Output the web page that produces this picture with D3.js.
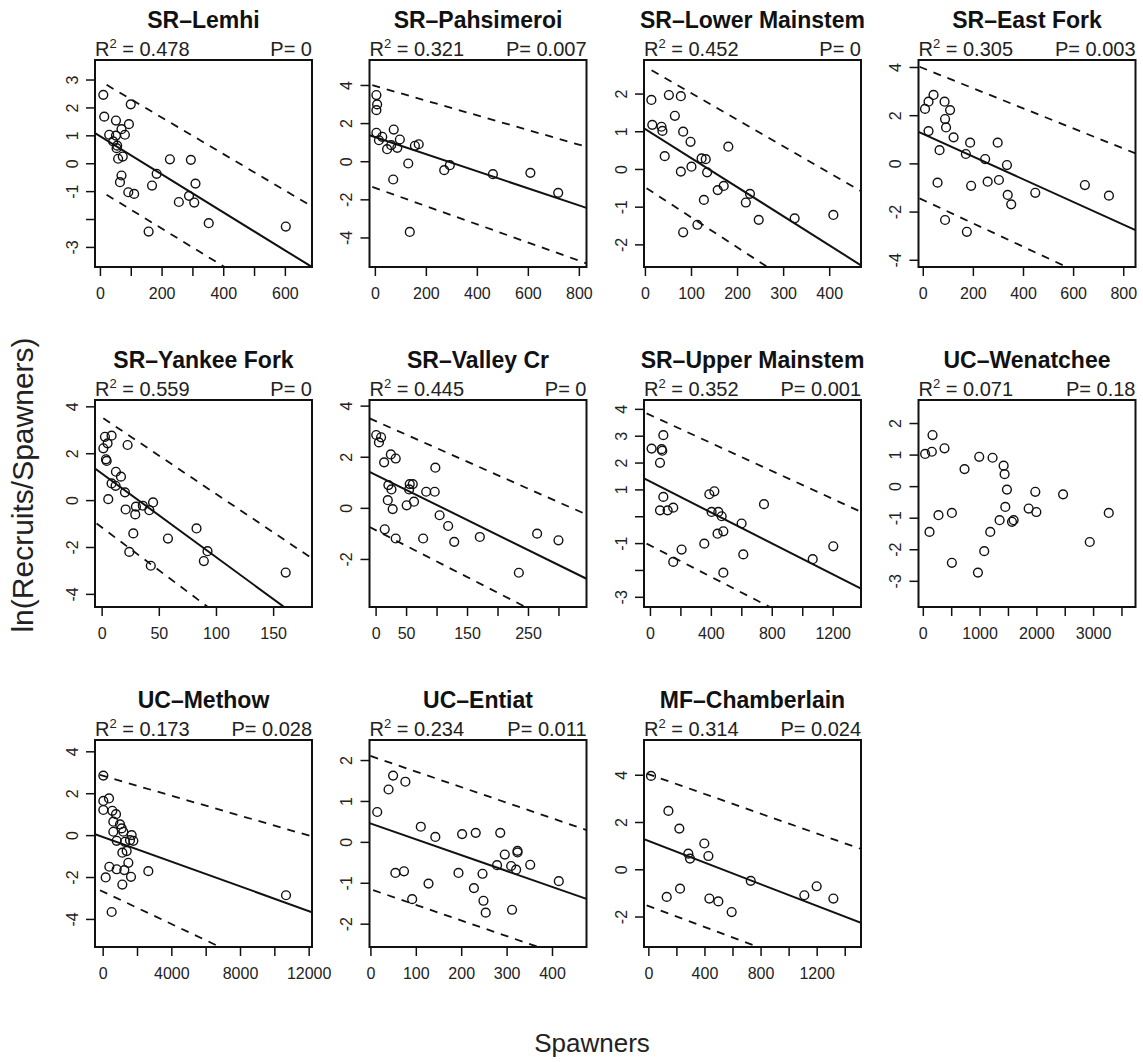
<!DOCTYPE html>
<html>
<head>
<meta charset="utf-8">
<script src="https://cdn.jsdelivr.net/npm/d3@7/dist/d3.min.js"></script>
<style>
  body { margin: 0; background: #fff; }
  svg { display: block; font-family: "Liberation Sans", Arial, Helvetica, sans-serif; }
</style>
</head>
<body>
<svg width="1143" height="1062"></svg>
<script>
// one entry per panel, in reading order
const panelNames = ['SR–Lemhi', 'SR–Pahsimeroi', 'SR–Lower Mainstem', 'SR–East Fork',
  'SR–Yankee Fork', 'SR–Valley Cr', 'SR–Upper Mainstem', 'UC–Wenatchee',
  'UC–Methow', 'UC–Entiat', 'MF–Chamberlain'];
const r2Values = ['0.478', '0.321', '0.452', '0.305', '0.559', '0.445', '0.352', '0.071', '0.173', '0.234', '0.314'];
const pValues = ['0', '0.007', '0', '0.003', '0', '0', '0.001', '0.18', '0.028', '0.011', '0.024'];

// spawners (x) and ln(recruits/spawners) (y)
const spawners = [
  [11, 100, 14, 52, 94, 70, 30, 52, 81, 43, 56, 54, 74, 59, 227, 295, 184, 70, 65, 169, 310, 92, 111, 289, 256, 306, 353, 158, 603],
  [6, 9, 6, 6, 16, 29, 74, 98, 64, 48, 88, 157, 172, 131, 294, 272, 463, 610, 719, 72, 137],
  [14, 52, 78, 65, 16, 36, 38, 83, 99, 181, 43, 123, 132, 135, 101, 78, 171, 158, 128, 228, 219, 247, 325, 409, 114, 83],
  [43, 23, 9, 87, 109, 89, 93, 23, 123, 189, 299, 67, 172, 249, 336, 59, 193, 259, 304, 339, 353, 449, 647, 743, 89, 176],
  [2.9, 8.7, 5.2, 1.5, 22.7, 3.8, 4.4, 12.5, 16.9, 8.7, 12.2, 20.4, 5.8, 45, 36, 30, 41.7, 21, 29.4, 83, 27.7, 58, 92.6, 24.2, 89.4, 43, 161],
  [1, 9, 5.5, 25, 33, 14, 98, 21, 26, 56, 61, 55, 83, 97, 20, 28, 51, 63, 105, 119, 15, 33, 78, 129, 171, 265, 300, 235],
  [88, 11, 77, 81, 66, 88, 66, 116, 153, 390, 423, 405, 449, 471, 749, 602, 482, 444, 357, 208, 153, 613, 482, 1069, 1204],
  [41, 159, 171, 382, 735, 994, 1229, 1424, 1441, 1482, 1982, 2471, 1453, 1865, 2000, 1353, 1571, 1600, 276, 512, 3276, 118, 1188, 1082, 512, 971, 2941],
  [39, 39, 369, 39, 563, 777, 621, 1010, 1107, 621, 1204, 816, 1301, 1689, 1592, 1786, 1398, 1146, 1495, 388, 816, 1262, 2660, 175, 1650, 1146, 524, 10680],
  [15, 40, 50, 77, 111, 143, 202, 232, 286, 296, 324, 324, 279, 310, 321, 352, 415, 55, 74, 194, 247, 128, 228, 92, 249, 254, 312],
  [19, 143, 221, 399, 428, 285, 297, 730, 1112, 1200, 1319, 226, 131, 435, 499, 594]
];
const lnRS = [
  [2.45, 2.11, 1.67, 1.53, 1.40, 1.22, 1.02, 0.99, 1.02, 0.78, 0.63, 0.54, 0.24, 0.16, 0.14, 0.12, -0.38, -0.44, -0.68, -0.80, -0.73, -1.04, -1.10, -1.17, -1.39, -1.41, -2.15, -2.45, -2.27],
  [3.47, 2.98, 2.68, 1.49, 1.10, 1.28, 1.66, 1.14, 0.84, 0.63, 0.70, 0.81, 0.89, -0.12, -0.21, -0.47, -0.68, -0.61, -1.66, -0.96, -3.71],
  [1.83, 1.96, 1.93, 1.41, 1.17, 1.12, 1.01, 0.99, 0.72, 0.59, 0.34, 0.28, 0.26, -0.09, 0.06, -0.07, -0.45, -0.56, -0.82, -0.66, -0.89, -1.35, -1.31, -1.22, -1.48, -1.68],
  [2.84, 2.56, 2.26, 2.56, 2.21, 1.84, 1.49, 1.34, 1.08, 0.86, 0.86, 0.55, 0.39, 0.18, -0.07, -0.80, -0.93, -0.76, -0.69, -1.31, -1.70, -1.22, -0.90, -1.34, -2.35, -2.84],
  [2.70, 2.75, 2.42, 2.21, 2.35, 1.74, 1.67, 1.21, 1.00, 0.71, 0.61, 0.33, 0.04, -0.10, -0.24, -0.28, -0.43, -0.40, -0.61, -1.21, -1.42, -1.64, -2.18, -2.21, -2.60, -2.80, -3.09],
  [2.85, 2.76, 2.56, 2.09, 1.93, 1.78, 1.57, 0.89, 0.72, 0.93, 0.93, 0.72, 0.63, 0.63, 0.30, -0.05, 0.10, 0.24, -0.29, -0.71, -0.84, -1.20, -1.20, -1.33, -1.14, -1.01, -1.27, -2.54],
  [3.02, 2.52, 2.50, 2.44, 1.99, 0.72, 0.22, 0.22, 0.32, 0.82, 0.93, 0.16, 0.16, 0.00, 0.45, -0.27, -0.56, -0.65, -1.02, -1.24, -1.70, -1.42, -2.10, -1.60, -1.12],
  [1.02, 1.09, 1.62, 1.20, 0.54, 0.93, 0.90, 0.65, 0.38, -0.11, -0.18, -0.26, -0.66, -0.71, -0.82, -1.08, -1.13, -1.08, -0.92, -0.85, -0.85, -1.45, -1.45, -2.06, -2.43, -2.74, -1.77],
  [2.84, 1.63, 1.75, 1.20, 1.16, 1.00, 0.64, 0.51, 0.32, 0.16, 0.16, -0.27, -0.32, 0.00, -0.24, -0.27, -0.76, -0.84, -1.32, -1.51, -1.63, -1.67, -1.72, -2.02, -1.99, -2.36, -3.67, -2.87],
  [0.73, 1.28, 1.62, 1.47, 0.37, 0.12, 0.19, 0.22, 0.22, -0.31, -0.22, -0.26, -0.57, -0.59, -0.68, -0.56, -0.96, -0.76, -0.72, -0.76, -0.78, -1.02, -1.13, -1.40, -1.44, -1.73, -1.66],
  [3.95, 2.47, 1.72, 1.09, 0.56, 0.66, 0.45, -0.49, -1.10, -0.72, -1.24, -0.82, -1.17, -1.24, -1.36, -1.81]
];

// axis limits of each panel
const xLimits = [[-16, 688], [-21, 830], [-2, 469], [-17, 849], [-5.8, 184], [-10, 346],
  [-39, 1386], [-76, 3747], [-447, 12194], [-2, 476], [-31, 1516]];
const yLimits = [[-3.72, 3.70], [-5.55, 5.31], [-2.60, 2.89], [-4.30, 4.29], [-4.56, 4.27], [-3.88, 4.22],
  [-3.38, 4.33], [-3.83, 2.73], [-5.34, 4.54], [-2.57, 2.49], [-3.29, 5.47]];

// tick positions, and the ones that carry a label
const xTicks = [d3.range(0, 601, 100), d3.range(0, 801, 200), d3.range(0, 401, 100), d3.range(0, 801, 200),
  [0, 50, 100, 150], d3.range(0, 301, 50), d3.range(0, 1201, 200), d3.range(0, 3501, 500),
  d3.range(0, 12001, 2000), d3.range(0, 401, 100), d3.range(0, 1401, 200)];
const xLabels = [[0, 200, 400, 600], [0, 200, 400, 600, 800], [0, 100, 200, 300, 400], [0, 200, 400, 600, 800],
  [0, 50, 100, 150], [0, 50, 150, 250], [0, 400, 800, 1200], [0, 1000, 2000, 3000],
  [0, 4000, 8000, 12000], [0, 100, 200, 300, 400], [0, 400, 800, 1200]];
const yTicks = [d3.range(-3, 4), [-4, -2, 0, 2, 4], d3.range(-2, 3), [-4, -2, 0, 2, 4],
  [-4, -2, 0, 2, 4], [-2, 0, 2, 4], d3.range(-3, 5), d3.range(-3, 3),
  [-4, -2, 0, 2, 4], d3.range(-2, 3), [-2, 0, 2, 4]];
const yLabels = [[-3, -1, 0, 1, 2, 3], [-4, -2, 0, 2, 4], [-2, -1, 0, 1, 2], [-4, -2, 0, 2, 4],
  [-4, -2, 0, 2, 4], [-2, 0, 2, 4], [-3, -1, 1, 2, 3, 4], [-3, -2, -1, 0, 1, 2],
  [-4, -2, 0, 2, 4], [-2, -1, 0, 1, 2], [-2, 0, 2, 4]];

// regression line and prediction bounds, two points read on each
const fitLines = [[[-16, 1.08], [616, -3.23]], [[-10, 1.31], [761, -2.14]], [[-2, 1.08], [445, -2.37]],
  [[-17, 1.31], [849, -2.77]], [[-5.8, 1.35], [158.8, -4.53]], [[-9.9, 1.41], [317.5, -2.44]],
  [[-39, 1.41], [1314, -2.49]], null, [[-447, 0.05], [12194, -3.68]], [[0, 0.45], [439, -1.25]],
  [[-31, 1.27], [1438, -2.09]]];
const upperBounds = [[[21.6, 2.81], [616, -1.08]], [[-10, 3.99], [761, 1.02]], [[14.5, 2.62], [445, -0.42]],
  [[-13, 4.01], [843, 0.44]], [[1.5, 3.49], [164.6, -1.85]], [[-9.9, 3.50], [317.5, 0.04]],
  [[-22, 3.83], [1314, 0.35]], null, [[-155, 2.87], [10913, 0.24]], [[0, 2.10], [439, 0.43]],
  [[-12, 4.05], [1438, 1.02]]];
const lowerBounds = [[[21.6, -1.13], [357, -3.40]], [[-10, -1.35], [761, -5.03]], [[3.6, -0.51], [242, -2.41]],
  [[-13, -1.45], [529, -4.08]], [[-4.4, -1.0], [88.8, -4.41]], [[-9.9, -0.75], [246, -3.88]],
  [[-22, -1.02], [766, -3.32]], null, [[-155, -2.63], [6835, -5.34]], [[6, -1.18], [354, -2.51]],
  [[-12, -1.53], [784, -3.29]]];

const svg = d3.select('svg');
const boxW = 217, boxH = 207;
const defs = svg.append('defs');

svg.append('rect').attr('width', 1143).attr('height', 1062).attr('fill', '#fff');

// stretch a two-point line across the panel (optionally starting at its first point)
const stretch = (pts, lim, fromFirst) => {
  const [[x0, y0], [x1, y1]] = pts;
  const m = (y1 - y0) / (x1 - x0);
  const xa = fromFirst ? x0 : lim[0];
  return [[xa, y0 + m * (xa - x0)], [lim[1], y0 + m * (lim[1] - x0)]];
};

panelNames.forEach((name, i) => {
  const col = i % 4, row = Math.floor(i / 4);
  const g = svg.append('g')
    .attr('transform', `translate(${95 + col * 274.5},${60 + row * 340})`);

  const x = d3.scaleLinear().domain(xLimits[i]).range([0, boxW]);
  const y = d3.scaleLinear().domain(yLimits[i]).range([boxH, 0]);

  defs.append('clipPath').attr('id', `clip${i}`)
    .append('rect').attr('width', boxW).attr('height', boxH);

  // axes
  const xAxis = d3.axisBottom(x).tickValues(xTicks[i]).tickSize(9)
    .tickFormat(d => xLabels[i].includes(d) ? String(d) : '');
  const yAxis = d3.axisLeft(y).tickValues(yTicks[i]).tickSize(9)
    .tickFormat(d => yLabels[i].includes(d) ? String(d) : '');

  const xg = g.append('g').attr('transform', `translate(0,${boxH})`).call(xAxis);
  const yg = g.append('g').call(yAxis);

  [xg, yg].forEach(a => {
    a.select('.domain').remove();
    a.selectAll('line').attr('stroke', '#111').attr('stroke-width', 1.5);
    a.selectAll('text').attr('fill', '#222').attr('font-size', 16)
      .attr('font-family', '"Liberation Sans", Arial, sans-serif');
  });
  xg.selectAll('text').attr('y', 26).attr('dy', '0.36em');
  yg.selectAll('text')
    .attr('x', null).attr('dy', '0.36em')
    .attr('text-anchor', 'middle')
    .attr('transform', 'translate(-23,0) rotate(-90)');

  // lines, clipped to the box
  const lines = g.append('g').attr('clip-path', `url(#clip${i})`);
  const line = d3.line().x(d => x(d[0])).y(d => y(d[1]));
  if (fitLines[i]) {
    lines.append('path').attr('d', line(stretch(fitLines[i], xLimits[i], false)))
      .attr('fill', 'none').attr('stroke', '#111').attr('stroke-width', 2);
    [upperBounds[i], lowerBounds[i]].forEach(b => {
      lines.append('path').attr('d', line(stretch(b, xLimits[i], true)))
        .attr('fill', 'none').attr('stroke', '#111').attr('stroke-width', 1.8)
        .attr('stroke-dasharray', '8,7');
    });
  }

  // points
  g.append('g').selectAll('circle')
    .data(spawners[i].map((s, k) => [s, lnRS[i][k]]))
    .enter()
    .append('circle')
    .attr('cx', d => x(d[0]))
    .attr('cy', d => y(d[1]))
    .attr('r', 4.4)
    .attr('fill', 'none')
    .attr('stroke', '#111')
    .attr('stroke-width', 1.4);

  // frame
  g.append('rect').attr('width', boxW).attr('height', boxH)
    .attr('fill', 'none').attr('stroke', '#111').attr('stroke-width', 2);

  // title and stats
  g.append('text').attr('x', boxW / 2).attr('y', -32)
    .attr('text-anchor', 'middle').attr('font-weight', 'bold').attr('font-size', 23)
    .attr('fill', '#111').text(name);

  const r2 = g.append('text').attr('x', 0).attr('y', -4).attr('font-size', 20).attr('fill', '#222');
  r2.append('tspan').text('R');
  r2.append('tspan').attr('font-size', 13).attr('dy', -8).text('2');
  r2.append('tspan').attr('dy', 8).text(' = ' + r2Values[i]);

  g.append('text').attr('x', boxW).attr('y', -4).attr('text-anchor', 'end')
    .attr('font-size', 20).attr('fill', '#222').text('P= ' + pValues[i]);
});

// shared axis titles
svg.append('text').attr('x', 592).attr('y', 1052).attr('text-anchor', 'middle')
  .attr('font-size', 26).attr('fill', '#222').text('Spawners');
svg.append('text').attr('transform', 'translate(22,485) rotate(-90)')
  .attr('text-anchor', 'middle').attr('dy', '0.36em')
  .attr('font-size', 30).attr('fill', '#222').text('ln(Recruits/Spawners)');
</script>
</body>
</html>
